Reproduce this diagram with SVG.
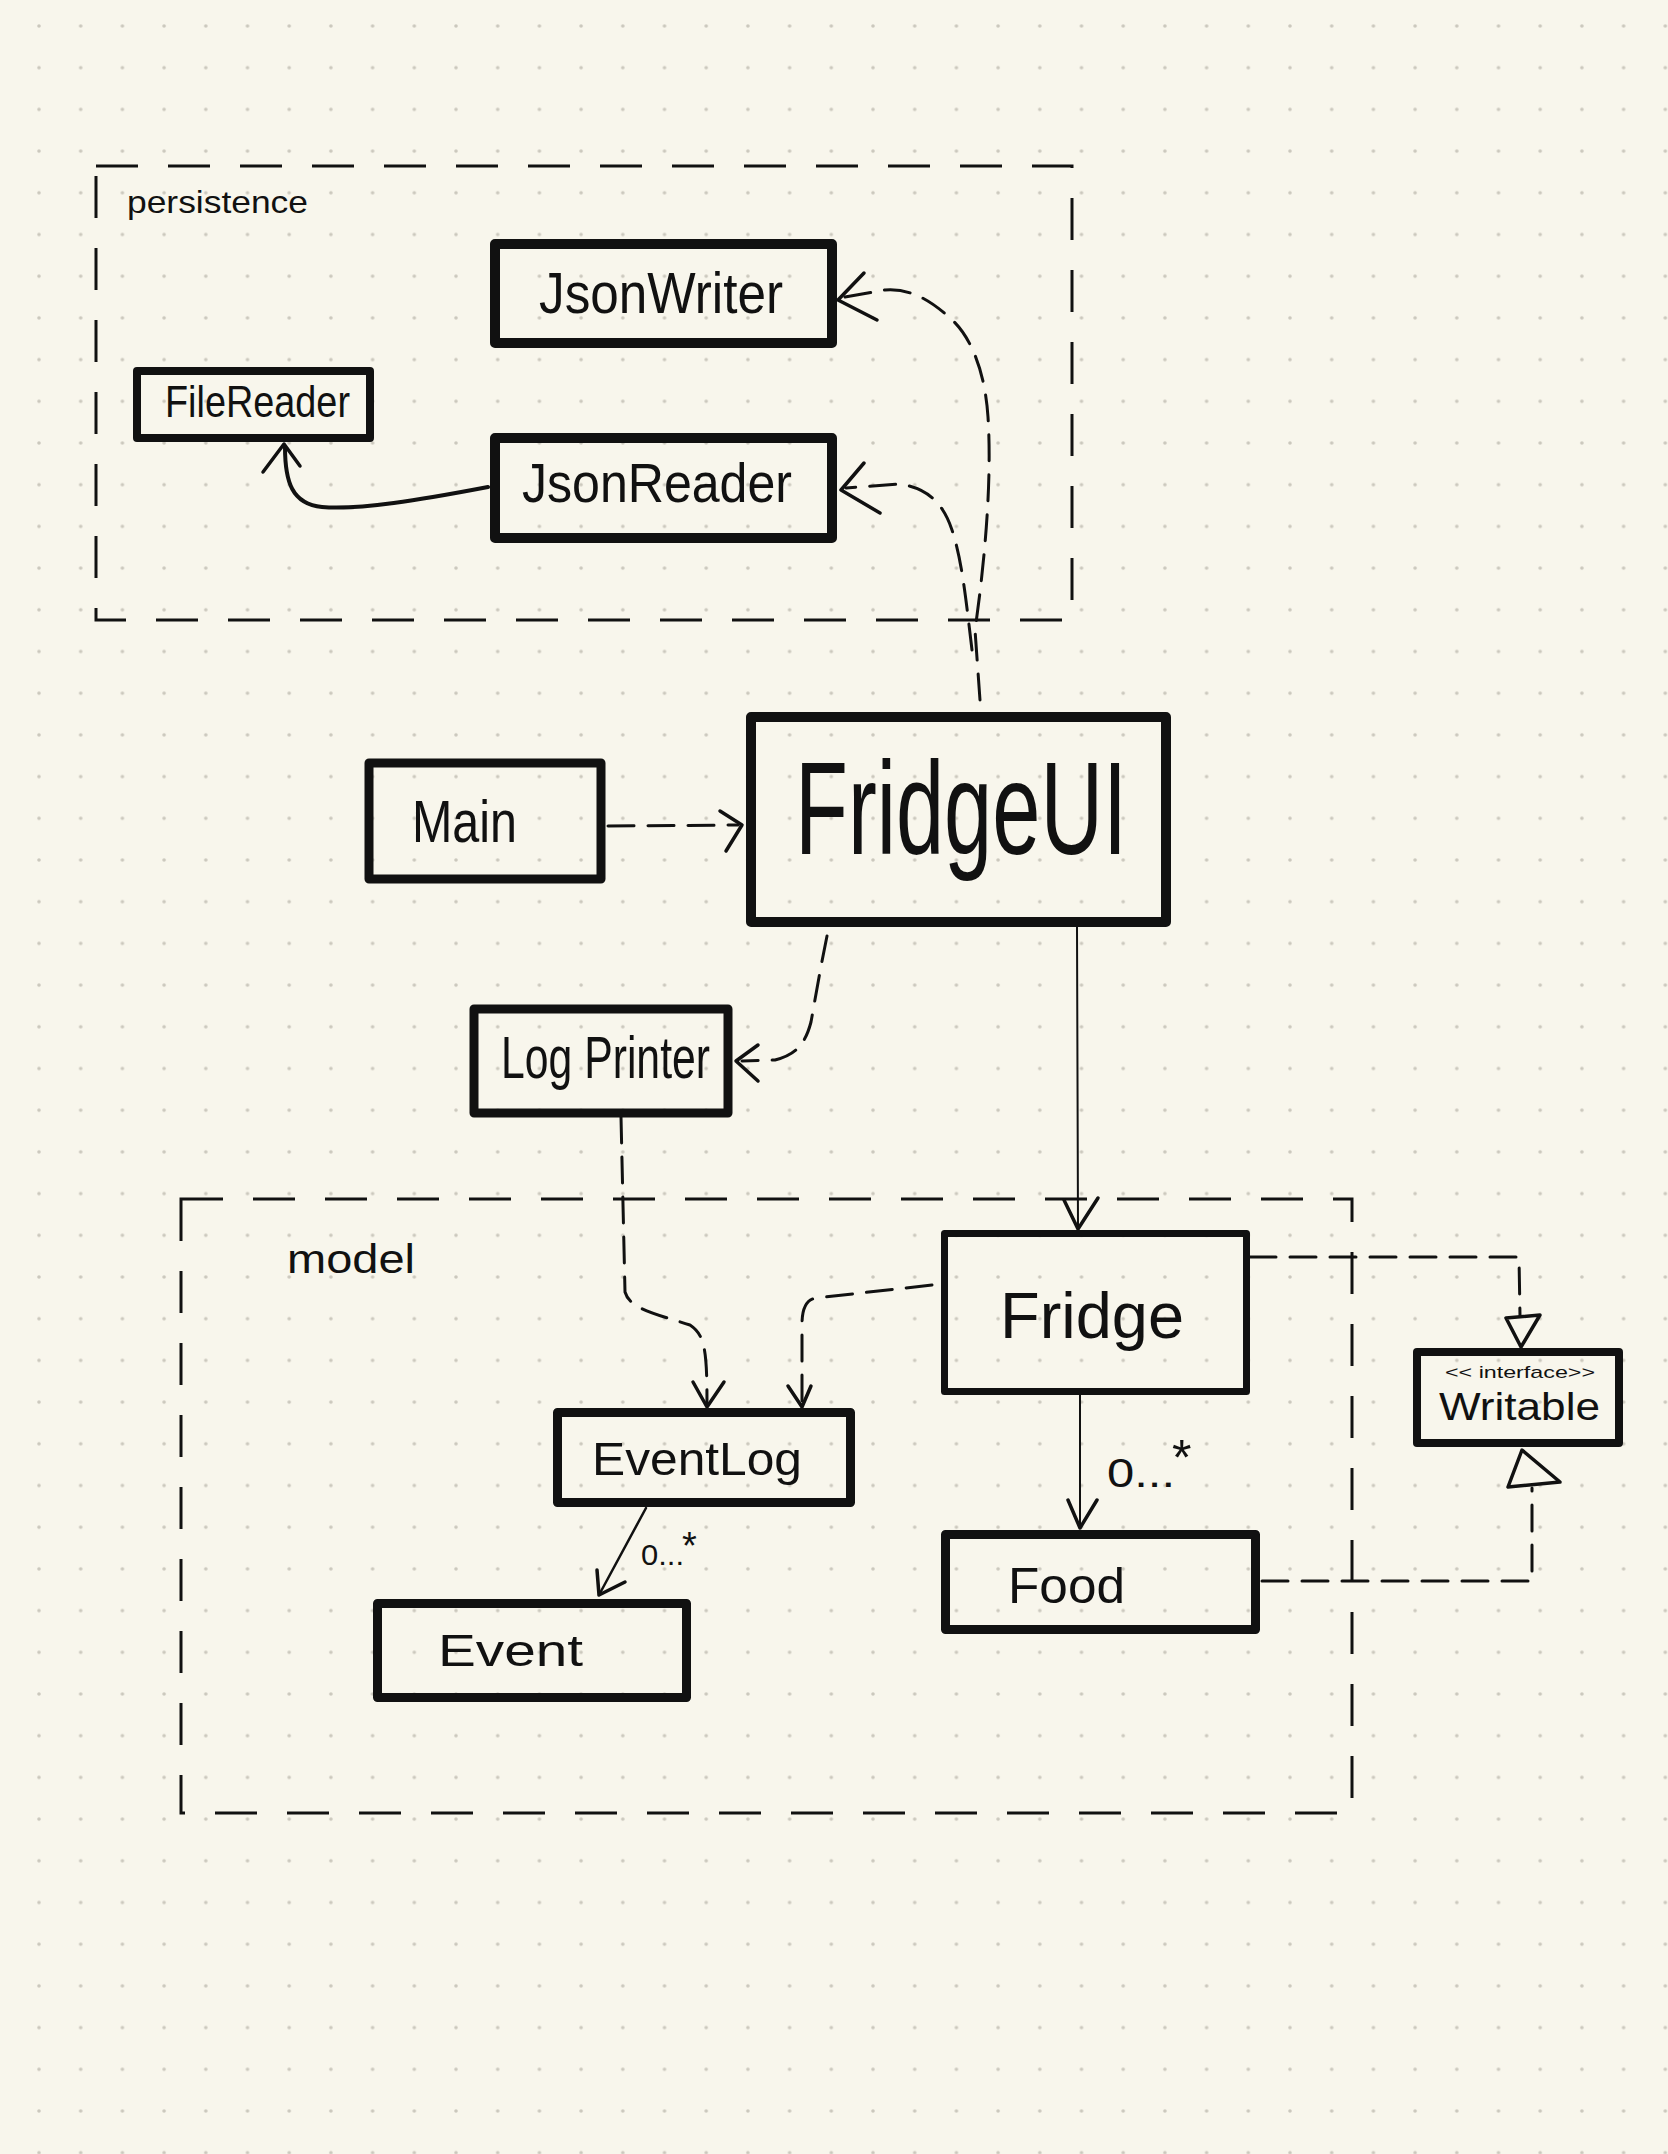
<svg xmlns="http://www.w3.org/2000/svg" width="1668" height="2154" viewBox="0 0 1668 2154">
<defs>
<pattern id="dots" patternUnits="userSpaceOnUse" x="18.15" y="5.15" width="41.7" height="41.7">
<circle cx="20.85" cy="20.85" r="1.8" fill="#cbc8bd"/>
</pattern>
<style>
.box{fill:none;stroke:#111;stroke-linejoin:round}
.frame{fill:none;stroke:#111;stroke-width:3;stroke-dasharray:42 30}
.t{font-family:"Liberation Sans",Arial,sans-serif;fill:#111}
.dash{fill:none;stroke:#111;stroke-width:3;stroke-dasharray:26 14;stroke-linecap:round}
.solid{fill:none;stroke:#111;stroke-linecap:round;stroke-linejoin:round}
.head{fill:none;stroke:#111;stroke-width:3.5;stroke-linecap:round;stroke-linejoin:round}
.tri{fill:#f8f6ec;stroke:#111;stroke-width:3.5;stroke-linejoin:round}
</style>
</defs>
<rect width="1668" height="2154" fill="#f8f6ec"/>
<rect width="1668" height="2154" fill="url(#dots)"/>

<g id="frames">
<rect class="frame" x="96" y="166" width="976" height="454"/>
<text class="t" x="127" y="213" font-size="32" textLength="181" lengthAdjust="spacingAndGlyphs">persistence</text>
<rect class="frame" x="181" y="1199" width="1171" height="614"/>
<text class="t" x="287" y="1273" font-size="40" textLength="128" lengthAdjust="spacingAndGlyphs">model</text>
</g>

<g id="connectors">
<!-- JsonReader -> FileReader -->
<path class="solid" stroke-width="4" d="M488,487 C420,500 360,510 322,507 C292,504 285,482 285,447"/>
<path class="head" d="M263,472 L284,444 L300,466"/>
<!-- FridgeUI -> JsonWriter -->
<path class="dash" d="M980,700 L975,630 C985,560 992,480 988,417 C985,370 970,335 950,318 C930,300 910,288 885,290 L845,297"/>
<path class="head" d="M864,273 L838,300 L877,320"/>
<!-- FridgeUI -> JsonReader -->
<path class="dash" d="M972,650 C966,600 962,560 952,530 C942,500 925,488 900,484 L846,488"/>
<path class="head" d="M864,463 L841,490 L880,513"/>
<!-- Main -> FridgeUI -->
<path class="dash" stroke-dasharray="18 12" d="M608,826 L738,825"/>
<path class="head" d="M720,811 L742,825 L726,851"/>
<!-- FridgeUI -> LogPrinter -->
<path class="dash" d="M827,936 C820,970 815,1000 811,1022 C805,1045 795,1055 775,1060 L742,1061"/>
<path class="head" d="M758,1045 L736,1061 L758,1081"/>
<!-- FridgeUI -> Fridge -->
<path class="solid" stroke-width="2" d="M1077,927 L1078,1228"/>
<path class="head" stroke-width="3" d="M1064,1200 L1078,1229 L1098,1198"/>
<!-- LogPrinter -> EventLog -->
<path class="dash" d="M621,1117 L625,1292 C630,1310 660,1315 690,1325 C705,1335 707,1350 707,1405"/>
<path class="head" stroke-width="2.5" d="M693,1382 L707,1407 L724,1382"/>
<!-- Fridge -> EventLog -->
<path class="dash" stroke-width="2.5" stroke-dasharray="18 12" d="M932,1285 L816,1298 C805,1300 802,1310 802,1325 L802,1405"/>
<path class="head" stroke-width="2.5" d="M788,1386 L802,1407 L811,1386"/>
<!-- Fridge -> Food -->
<path class="solid" stroke-width="2" d="M1080,1395 L1080,1527"/>
<path class="head" stroke-width="3" d="M1068,1500 L1080,1528 L1097,1500"/>
<text class="t" x="1107" y="1487" font-size="40" textLength="68" lengthAdjust="spacingAndGlyphs">0...</text>
<text class="t" x="1172" y="1475" font-size="50">*</text>
<!-- EventLog -> Event -->
<path class="solid" stroke-width="2.5" d="M646,1508 L599,1595"/>
<path class="head" stroke-width="3" d="M597,1570 L599,1595 L625,1582"/>
<text class="t" x="641" y="1565" font-size="30" textLength="43" lengthAdjust="spacingAndGlyphs">0...</text>
<text class="t" x="682" y="1559" font-size="38">*</text>
<!-- Fridge -> Writable (realization) -->
<path class="dash" d="M1250,1257 L1519,1257 L1520,1316"/>
<path class="tri" d="M1506,1318 L1540,1315 L1521,1347 Z"/>
<!-- Food -> Writable (realization) -->
<path class="dash" d="M1262,1581 L1532,1581 L1532,1488"/>
<path class="tri" d="M1522,1450 L1508,1487 L1560,1482 Z"/>
</g>

<g id="JsonWriter">
<rect class="box" stroke-width="10" x="495" y="244" width="337" height="99"/>
<text class="t" x="539" y="313" font-size="57" textLength="244" lengthAdjust="spacingAndGlyphs">JsonWriter</text>
</g>
<g id="JsonReader">
<rect class="box" stroke-width="10" x="495" y="438" width="337" height="100"/>
<text class="t" x="522" y="502" font-size="56" textLength="270" lengthAdjust="spacingAndGlyphs">JsonReader</text>
</g>
<g id="FileReader">
<rect class="box" stroke-width="8" x="137" y="371" width="233" height="67"/>
<text class="t" x="165" y="417" font-size="44" textLength="185" lengthAdjust="spacingAndGlyphs">FileReader</text>
</g>
<g id="FridgeUI">
<rect class="box" stroke-width="10" x="751" y="717" width="415" height="205"/>
<text class="t" x="795" y="854" font-size="132" textLength="332" lengthAdjust="spacingAndGlyphs">FridgeUI</text>
</g>
<g id="Main">
<rect class="box" stroke-width="9" x="369" y="763" width="232" height="116"/>
<text class="t" x="412" y="842" font-size="60" textLength="105" lengthAdjust="spacingAndGlyphs">Main</text>
</g>
<g id="LogPrinter">
<rect class="box" stroke-width="9" x="474" y="1009" width="254" height="104"/>
<text class="t" x="501" y="1078" font-size="60" textLength="209" lengthAdjust="spacingAndGlyphs">Log Printer</text>
</g>
<g id="Fridge">
<rect class="box" stroke-width="7" x="944.5" y="1233.5" width="302" height="158"/>
<text class="t" x="1000" y="1338" font-size="64" textLength="184" lengthAdjust="spacingAndGlyphs">Fridge</text>
</g>
<g id="EventLog">
<rect class="box" stroke-width="9" x="557.5" y="1412.5" width="293" height="90"/>
<text class="t" x="592" y="1475" font-size="47" textLength="210" lengthAdjust="spacingAndGlyphs">EventLog</text>
</g>
<g id="Event">
<rect class="box" stroke-width="9" x="377.5" y="1603.5" width="309" height="94"/>
<text class="t" x="438" y="1666" font-size="44" textLength="145" lengthAdjust="spacingAndGlyphs">Event</text>
</g>
<g id="Food">
<rect class="box" stroke-width="9" x="945.5" y="1534.5" width="310" height="95"/>
<text class="t" x="1008" y="1603" font-size="50" textLength="117" lengthAdjust="spacingAndGlyphs">Food</text>
</g>
<g id="Writable">
<rect class="box" stroke-width="8" x="1417" y="1352" width="202" height="91"/>
<text class="t" x="1445" y="1378" font-size="17" textLength="150" lengthAdjust="spacingAndGlyphs">&lt;&lt; interface&gt;&gt;</text>
<text class="t" x="1439" y="1420" font-size="38" textLength="161" lengthAdjust="spacingAndGlyphs">Writable</text>
</g>
</svg>
